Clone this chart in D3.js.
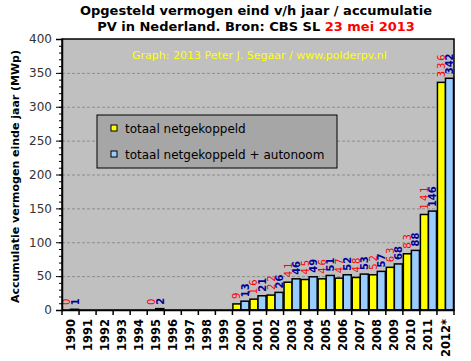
<!DOCTYPE html>
<html>
<head>
<meta charset="utf-8">
<script src="https://cdn.jsdelivr.net/npm/d3@7"></script>
<style>
  body { margin: 0; background: #fff; }
  svg { font-family: "DejaVu Sans", Verdana, sans-serif; }
</style>
</head>
<body>
<svg width="471" height="361"></svg>
<script>
// jaren en waarden (MWp), null = geen gegevens
const years = ["1990","1991","1992","1993","1994","1995","1996","1997","1998","1999",
               "2000","2001","2002","2003","2004","2005","2006","2007","2008","2009",
               "2010","2011","2012*"];
const netgekoppeld = [0,null,null,null,null,0,null,null,null,null,
                      9,16,22,41,45,46,47,48,52,63,83,141,336];
const inclAutonoom = [1,null,null,null,null,2,null,null,null,null,
                      13,21,26,46,49,51,52,53,57,68,88,146,342];
const yTicks = [0,50,100,150,200,250,300,350,400];

const svg = d3.select("svg");

// plotgebied
const area = { left: 62, right: 454, top: 39, bottom: 310 };

const data = years.map((y, i) => ({ year: y, net: netgekoppeld[i], tot: inclAutonoom[i] }));

const scX = d3.scaleBand().domain(years).range([area.left, area.right]);
const scSub = d3.scaleBand().domain(["net", "tot"]).range([0, scX.bandwidth()]).paddingOuter(0.06);
const scY = d3.scaleLinear().domain([0, 400]).range([area.bottom, area.top]);

// achtergrond
svg.append("rect")
    .attr("x", area.left).attr("y", area.top)
    .attr("width", area.right - area.left).attr("height", area.bottom - area.top)
    .attr("fill", "#c0c0c0");

// rasterlijnen
svg.append("g")
    .selectAll("line")
    .data(yTicks.slice(1, -1))
    .enter()
    .append("line")
    .attr("x1", area.left).attr("x2", area.right)
    .attr("y1", d => scY(d) + 0.5).attr("y2", d => scY(d) + 0.5)
    .attr("stroke", "#8c8c8c")
    .attr("stroke-dasharray", "3,2");

// tekst in grafiek
svg.append("text")
    .attr("x", 132).attr("y", 59)
    .attr("font-size", 11)
    .attr("fill", "#ffff00")
    .text("Graph: 2013 Peter J. Segaar / www.polderpv.nl");

// staven
const series = [
    { key: "net", color: "#ffff00" },
    { key: "tot", color: "#99ccff" }
];
series.forEach(s => {
    svg.append("g")
        .selectAll("rect")
        .data(data.filter(d => d[s.key] !== null))
        .enter()
        .append("rect")
        .attr("x", d => scX(d.year) + scSub(s.key))
        .attr("width", scSub.bandwidth())
        .attr("y", d => scY(d[s.key]))
        .attr("height", d => scY(0) - scY(d[s.key]))
        .attr("fill", s.color)
        .attr("stroke", "#000")
        .attr("stroke-width", 1.5);
});

// waardelabels
svg.append("g")
    .selectAll("text")
    .data(data.filter(d => d.net !== null))
    .enter()
    .append("text")
    .attr("transform", d => `translate(${scX(d.year) + scSub("net") + scSub.bandwidth() / 2 + 3.5},${scY(d.net) - 5}) rotate(-90)`)
    .attr("font-size", 10)
    .attr("letter-spacing", 2)
    .attr("fill", "#ff0000")
    .text(d => d.net);

svg.append("g")
    .selectAll("text")
    .data(data.filter(d => d.tot !== null))
    .enter()
    .append("text")
    .attr("transform", d => `translate(${scX(d.year) + scSub("tot") + scSub.bandwidth() / 2 + 4},${scY(d.tot) - 4}) rotate(-90)`)
    .attr("font-size", 10)
    .attr("font-weight", "bold")
    .attr("fill", "#000099")
    .text(d => d.tot);

// rand plotgebied
svg.append("rect")
    .attr("x", area.left).attr("y", area.top)
    .attr("width", area.right - area.left).attr("height", area.bottom - area.top)
    .attr("fill", "none")
    .attr("stroke", "#000")
    .attr("stroke-width", 1.5);

// Y-as met kleine streepjes
svg.append("g")
    .attr("transform", `translate(${area.left},0)`)
    .call(d3.axisLeft(scY).ticks(40).tickSize(3).tickFormat(""))
    .call(g => g.select(".domain").remove());

const axY = svg.append("g")
    .attr("transform", `translate(${area.left},0)`)
    .call(d3.axisLeft(scY).tickValues(yTicks).tickSize(6).tickPadding(4));
axY.select(".domain").attr("stroke-width", 1.5);
axY.selectAll("text").attr("font-size", 12).attr("fill", "#333").attr("font-family", "DejaVu Sans");

// X-as
const axX = svg.append("g")
    .attr("transform", `translate(0,${area.bottom})`)
    .call(d3.axisBottom(scX).tickSize(0).tickPadding(0));
axX.select(".domain").attr("stroke-width", 1.5);
axX.selectAll("text")
    .attr("font-size", 11.5)
    .attr("font-weight", "bold")
    .attr("font-family", "DejaVu Sans")
    .attr("fill", "#000")
    .style("text-anchor", "end")
    .attr("transform", "rotate(-90)")
    .attr("x", -9)
    .attr("y", 0)
    .attr("dy", "0.35em");

// streepjes tussen de jaren
svg.append("g")
    .selectAll("line")
    .data(years.concat([null]))
    .enter()
    .append("line")
    .attr("x1", (d, i) => area.left + i * scX.step())
    .attr("x2", (d, i) => area.left + i * scX.step())
    .attr("y1", area.bottom).attr("y2", area.bottom + 5)
    .attr("stroke", "#000").attr("stroke-width", 1.5);

// Y-as titel
svg.append("text")
    .attr("transform", `translate(19,${(50 + 303) / 2}) rotate(-90)`)
    .attr("text-anchor", "middle")
    .attr("font-size", 11)
    .attr("font-weight", "bold")
    .attr("textLength", 253)
    .attr("lengthAdjust", "spacingAndGlyphs")
    .text("Accumulatie vermogen einde jaar (MWp)");

// titel
const title = svg.append("g").attr("font-weight", "bold").attr("font-size", 13).attr("text-anchor", "middle");
title.append("text").attr("x", 256).attr("y", 15)
    .text("Opgesteld vermogen eind v/h jaar / accumulatie");
const t2 = title.append("text").attr("x", 256).attr("y", 31);
t2.append("tspan").text("PV in Nederland.  Bron: CBS SL ");
t2.append("tspan").attr("fill", "#ff0000").text("23 mei 2013");

// legenda
const legend = svg.append("g").attr("transform", "translate(97,115)");
legend.append("rect")
    .attr("width", 240).attr("height", 53)
    .attr("fill", "#a6a6a6").attr("stroke", "#000").attr("stroke-width", 1);
const legItems = ["totaal netgekoppeld", "totaal netgekoppeld + autonoom"];
legItems.forEach((t, i) => {
    legend.append("rect")
        .attr("x", 14).attr("y", 10 + i * 26)
        .attr("width", 6).attr("height", 6)
        .attr("fill", series[i].color).attr("stroke", "#000");
    legend.append("text")
        .attr("x", 28).attr("y", 18 + i * 26)
        .attr("font-size", 12)
        .text(t);
});
</script>
</body>
</html>
